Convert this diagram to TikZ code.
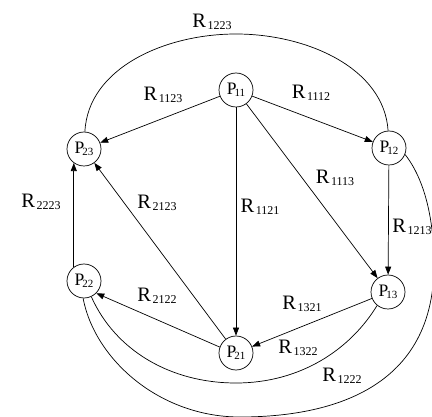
\documentclass[tikz,border=0pt]{standalone}
\usepackage{fontspec}
\setmainfont{Liberation Serif}
\usetikzlibrary{arrows.meta}
\newcommand\Pn[1]{{\fontsize{17.5}{17.5}\selectfont P}\kern-2pt\raisebox{-1.5pt}{\fontsize{11}{11}\selectfont #1}}
\newcommand\Rl[1]{{\fontsize{20.5}{20.5}\selectfont R}\kern1.5pt\raisebox{-2pt}{\fontsize{12}{12}\selectfont #1}}
\begin{document}
\begin{tikzpicture}[x=1pt,y=-1pt,line width=0.7pt,
  pnode/.style={circle,draw,minimum size=34pt,inner sep=0pt},
  lab/.style={inner sep=0pt},
  arr/.style={-{Triangle[length=8pt,width=6pt]}}]
\useasboundingbox (0,0) rectangle (432,417);
\node[pnode] (P11) at (236,90) {\Pn{11}};
\node[pnode] (P12) at (389,148) {\Pn{12}};
\node[pnode] (P23) at (84,149) {\Pn{23}};
\node[pnode] (P22) at (84,281) {\Pn{22}};
\node[pnode] (P13) at (388,292) {\Pn{13}};
\node[pnode] (P21) at (236,353) {\Pn{21}};
% straight arrows
\draw[arr] (P11) -- (P23);
\draw[arr] (P11) -- (P12);
\draw[arr] (P11) -- (P21);
\draw[arr] (P11) -- (P13);
\draw[arr] (P12) -- (P13);
\draw[arr] (P13) -- (P21);
\draw[arr] (P21.160) -- (P22.-45);
\draw[arr] (P21) -- (P23);
\draw[arr] (P22.126) -- (P23.234);
% curves
\draw (P23.87) .. controls (88,68) and (165,34) .. (236,34)
  .. controls (307,34) and (384,68) .. (P12.93);
\draw (P22.-65) .. controls (115,350) and (170,383) .. (236,383)
  .. controls (300,383) and (350,350) .. (P13.-129);
\draw (P12.-22) .. controls (425,180) and (434,220) .. (434,265)
  .. controls (434,395) and (320,417) .. (240,417)
  .. controls (160,417) and (95,360) .. (P22.-93);
% labels
\node[lab] (l1223) at (212,22) {\Rl{1223}};
\node[lab] (l1123) at (163,95) {\Rl{1123}};
\node[lab] (l1112) at (311,93) {\Rl{1112}};
\node[lab] (l1113) at (335,178) {\Rl{1113}};
\node[lab] (l2223) at (41,202) {\Rl{2223}};
\node[lab] (l2123) at (157,203) {\Rl{2123}};
\node[lab] (l1121) at (260,207) {\Rl{1121}};
\node[lab] (l1213) at (412,227) {\Rl{1213}};
\node[lab] (l2122) at (157,296) {\Rl{2122}};
\node[lab] (l1321) at (302,304) {\Rl{1321}};
\node[lab] (l1322) at (298,348) {\Rl{1322}};
\node[lab] (l1222) at (342,376) {\Rl{1222}};
\end{tikzpicture}
\end{document}
